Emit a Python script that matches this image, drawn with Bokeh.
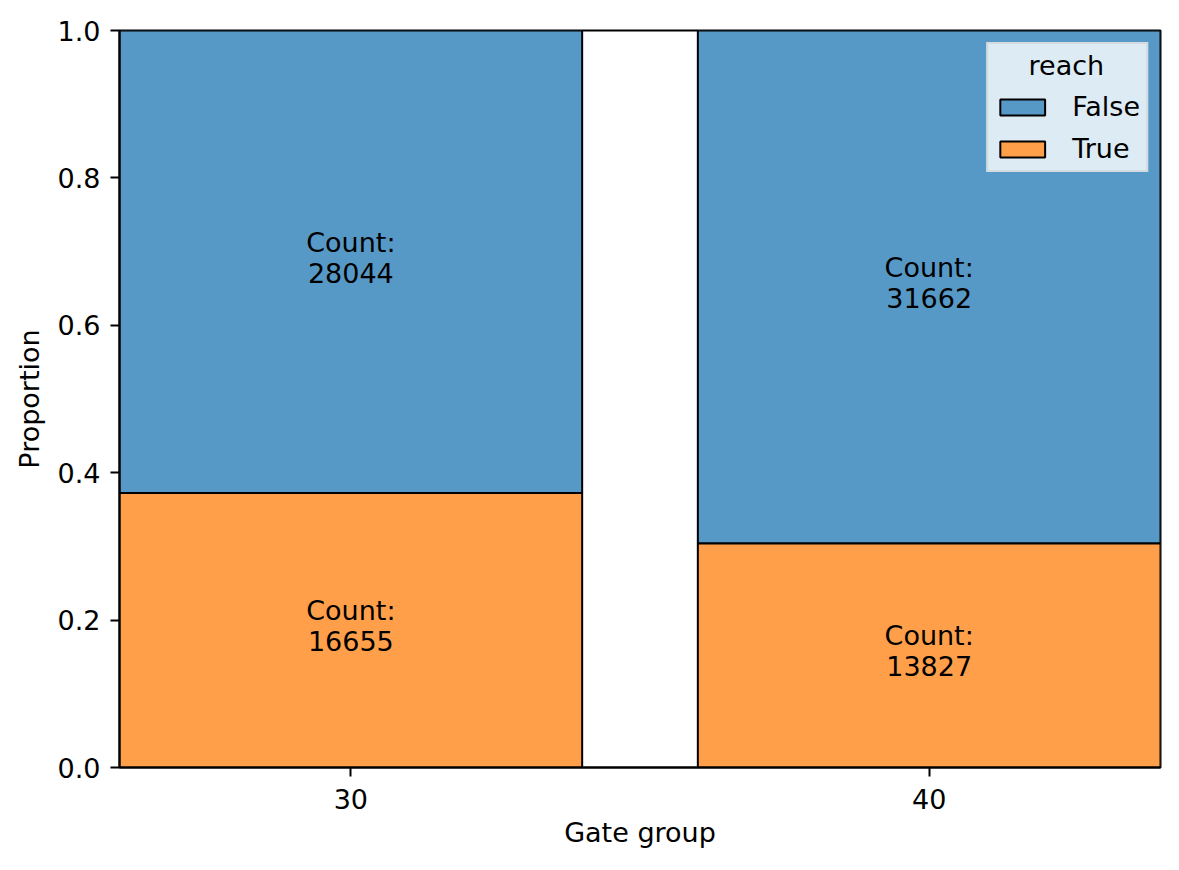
from bokeh.plotting import figure
from bokeh.models import Legend, LegendItem, ColumnDataSource, Range1d, FixedTicker, PrintfTickFormatter
from bokeh.core.properties import value
from bokeh.embed import file_html
from bokeh.resources import INLINE

# ---- data ----
groups = [30, 40]
count_false = [28044, 31662]
count_true = [16655, 13827]
hue_labels = ["False", "True"]
y_ticks = [0.0, 0.2, 0.4, 0.6, 0.8, 1.0]

FONT = "DejaVu Sans"
FS = "27px"
BLUE = "#5799c6"
ORANGE = "#ff9f4a"
bin_w = 8

totals = [a + b for a, b in zip(count_false, count_true)]
p_true = [t / s for t, s in zip(count_true, totals)]
left = [g - bin_w / 2 for g in groups]
right = [g + bin_w / 2 for g in groups]

src_true = ColumnDataSource(dict(left=left, right=right, bottom=[0] * len(groups), top=p_true,
                                 x=groups, y=[v / 2 for v in p_true],
                                 lab=["Count:\n%d" % c for c in count_true]))
src_false = ColumnDataSource(dict(left=left, right=right, bottom=p_true, top=[1] * len(groups),
                                  x=groups, y=[(1 + v) / 2 for v in p_true],
                                  lab=["Count:\n%d" % c for c in count_false]))

p = figure(width=1163, height=854, output_backend="svg", toolbar_location=None,
           x_range=Range1d(26, 44), y_range=Range1d(0, 1),
           min_border_left=119, min_border_right=3, min_border_top=30, min_border_bottom=87)
p.grid.visible = False
p.outline_line_color = "black"
p.outline_line_width = 2
p.outline_line_alpha = 1

r_false = p.quad(left="left", right="right", bottom="bottom", top="top", source=src_false,
                 fill_color=BLUE, line_color="black", line_width=2)
r_true = p.quad(left="left", right="right", bottom="bottom", top="top", source=src_true,
                fill_color=ORANGE, line_color="black", line_width=2)

for s in (src_false, src_true):
    p.text(x="x", y="y", text="lab", source=s, text_align="center", text_baseline="middle",
           text_font=value(FONT), text_font_size=FS, text_color="black", text_line_height=1.0,
           y_offset=-4)

for ax in (p.xaxis[0], p.yaxis[0]):
    ax.major_label_text_font = FONT
    ax.major_label_text_font_size = FS
    ax.axis_label_text_font = FONT
    ax.axis_label_text_font_size = FS
    ax.axis_label_text_font_style = "normal"
    ax.major_tick_out = 9
    ax.major_tick_in = 0
    ax.minor_tick_out = 0
    ax.minor_tick_in = 0
    ax.major_tick_line_width = 2
    ax.axis_line_width = 2
    ax.major_label_text_color = "black"
    ax.axis_label_text_color = "black"

p.xaxis.ticker = FixedTicker(ticks=groups)
p.xaxis.axis_label = "Gate group"
p.xaxis.major_label_standoff = 12
p.xaxis.axis_label_standoff = 5
p.yaxis.ticker = FixedTicker(ticks=y_ticks)
p.yaxis.formatter = PrintfTickFormatter(format="%.1f")
p.yaxis.axis_label = "Proportion"
p.yaxis.major_label_standoff = 10
p.yaxis.axis_label_standoff = 10

legend = Legend(items=[LegendItem(label=hue_labels[0], renderers=[r_false]),
                       LegendItem(label=hue_labels[1], renderers=[r_true])],
                location="top_right", title="\u00a0\u00a0\u00a0\u00a0reach")
legend.margin = 12
legend.padding = 6
legend.spacing = 11
legend.glyph_width = 56
legend.glyph_height = 20
legend.label_height = 20
legend.label_standoff = 22
legend.label_text_font = FONT
legend.label_text_font_size = FS
legend.label_text_color = "black"
legend.title_text_font = FONT
legend.title_text_font_size = FS
legend.title_text_font_style = "normal"
legend.title_text_color = "black"
legend.title_standoff = 10
legend.background_fill_color = "white"
legend.background_fill_alpha = 0.8
legend.border_line_color = "#cccccc"
legend.border_line_width = 2
p.add_layout(legend)

open("out.html", "w").write(file_html(p, INLINE))
